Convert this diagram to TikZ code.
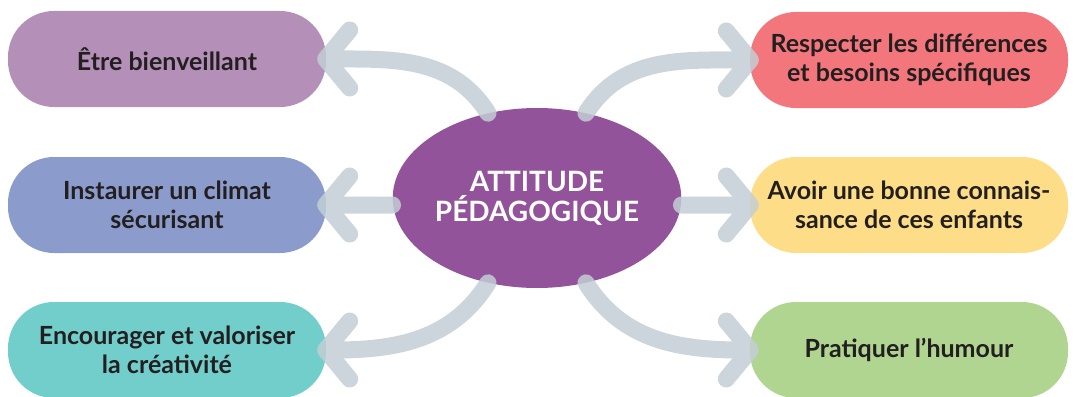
\documentclass[tikz,border=0pt]{standalone}
\usepackage{fontspec}
\setmainfont{Lato}
\usetikzlibrary{arrows.meta,shapes.geometric}
\definecolor{ink}{HTML}{231F20}
\definecolor{peda}{HTML}{93539B}
\definecolor{bienv}{HTML}{B490B9}
\definecolor{climat}{HTML}{8B9CCC}
\definecolor{creat}{HTML}{71CECB}
\definecolor{respect}{HTML}{F2767C}
\definecolor{connais}{HTML}{FDDD88}
\definecolor{humour}{HTML}{AFD590}
\definecolor{fleche}{HTML}{C3CED5}
\begin{document}
\begin{tikzpicture}[x=1pt,y=-1pt,
    blob/.style={rectangle, rounded corners=46pt, minimum width=318pt, minimum height=96pt,
      align=center, text=ink, font=\bfseries\fontsize{25}{29}\selectfont},
    lien/.style={line width=17pt, draw=fleche, line cap=round, shorten >=-9pt,
      -{Straight Barb[length=24pt,width=58pt,round]}}]
    \useasboundingbox (0,0) rectangle (1075,396);
    \node[blob, fill=bienv] (etre) at (167,59) {Être bienveillant};
    \node[blob, fill=climat] (climat) at (167,205) {Instaurer un climat\\sécurisant};
    \node[blob, fill=creat] (creat) at (167,350) {Encourager et valoriser\\la créativité};
    \node[blob, fill=respect] (respect) at (909,60) {Respecter les différences\\et besoins spécifiques};
    \node[blob, fill=connais] (connais) at (909,205) {Avoir une bonne connais-\\sance de ces enfants};
    \node[blob, fill=humour] (humour) at (909,350) {Pratiquer l’humour};
    \node[ellipse, fill=peda, inner sep=0pt, minimum width=280pt, minimum height=180pt, align=center,
      text=white, font=\bfseries\fontsize{28}{30}\selectfont] (peda) at (537,198) {ATTITUDE\\PÉDAGOGIQUE};
    \begin{scope}[transparency group, opacity=0.85]
        \draw[lien] (peda.120) to[out=122, in=0] (etre.east);
        \draw[lien] (peda.west |- climat.east) -- (climat.east);
        \draw[lien] (peda.240) to[out=238, in=0] (creat.east);
        \draw[lien] (peda.60) to[out=58, in=180] (respect.west);
        \draw[lien] (peda.east |- connais.west) -- (connais.west);
        \draw[lien] (peda.300) to[out=302, in=180] (humour.west);
    \end{scope}
\end{tikzpicture}
\end{document}
